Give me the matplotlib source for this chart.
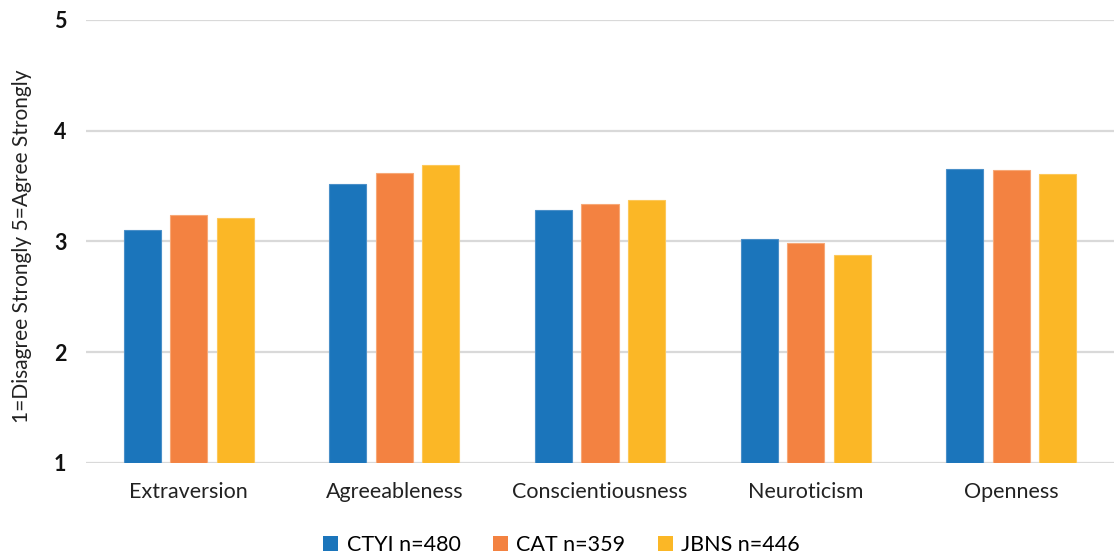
import matplotlib.pyplot as plt
import numpy as np
from matplotlib.patches import Patch

plt.rcParams['font.family'] = ['Lato', 'DejaVu Sans']

traits = ["Extraversion", "Agreeableness", "Conscientiousness", "Neuroticism", "Openness"]
series_names = ["CTYI n=480", "CAT n=359", "JBNS n=446"]
ctyi = [3.10, 3.52, 3.28, 3.02, 3.65]
cat = [3.24, 3.62, 3.34, 2.99, 3.645]
jbns = [3.21, 3.69, 3.37, 2.88, 3.61]
y_ticks = [1, 2, 3, 4, 5]

colors = ["#1B75BB", "#F38241", "#FBB726"]
edge_colors = ["#4a8fc8", "#f7a877", "#fcc85a"]

fig = plt.figure(figsize=(11.14, 5.55), dpi=100)
ax = fig.add_axes([0.0772, 0.166, 0.9228, 0.798])

x = np.arange(len(traits))
width = 0.18
step = 0.226
baseline = 1
for i, (vals, c, ec, name) in enumerate(zip([ctyi, cat, jbns], colors, edge_colors, series_names)):
    ax.bar(x + (i - 1) * step, np.array(vals) - baseline, width, bottom=baseline,
           color=c, edgecolor=ec, linewidth=0.8, label=name, zorder=3)

ax.set_xlim(-0.5, len(traits) - 0.5)
ax.set_ylim(1, 5)
ax.set_yticks(y_ticks)
ax.set_yticklabels([str(t) for t in y_ticks], fontweight='bold', fontsize=15.5, color='#111111')
ax.set_xticks(x)
ax.set_xticklabels(traits, fontsize=15.5, color='#222222')
ax.tick_params(axis='both', length=0)
ax.tick_params(axis='y', pad=14)
ax.tick_params(axis='x', pad=14)
ax.grid(axis='y', color='#d9d9d9', linewidth=1.6, zorder=0)
for s in ax.spines.values():
    s.set_visible(False)

ax.set_ylabel("1=Disagree Strongly 5=Agree Strongly", fontsize=15, color='#222222')
ax.yaxis.set_label_coords(-0.053, 0.49)

handles = [Patch(facecolor=c, edgecolor='none') for c in colors]
fig.legend(handles, series_names, loc='center', bbox_to_anchor=(0.504, 0.018), ncol=3,
           frameon=False, fontsize=15.5, handlelength=0.7, handleheight=0.7,
           handletextpad=0.4, columnspacing=1.5)

fig.savefig("out.png", dpi=100)
